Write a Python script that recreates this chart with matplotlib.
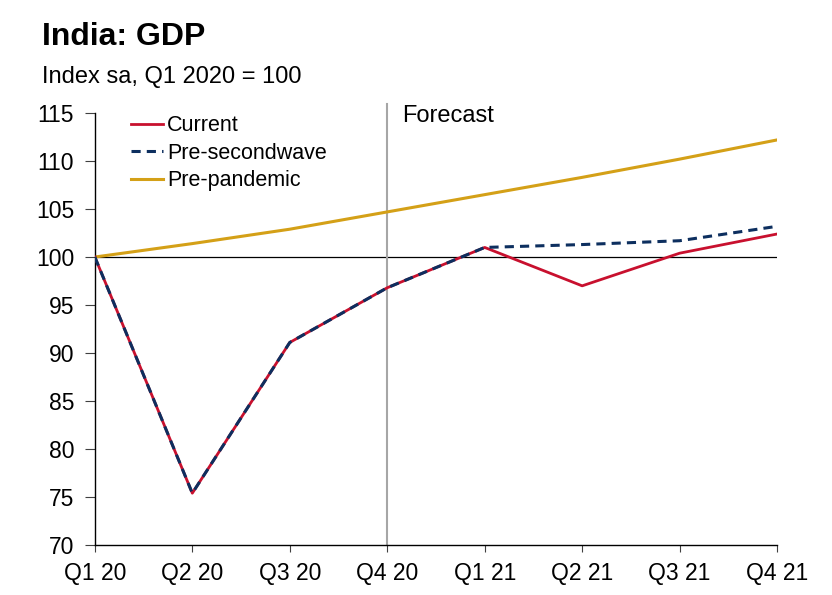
import matplotlib.pyplot as plt

plt.rcParams['font.family'] = ['Liberation Sans', 'DejaVu Sans']

quarters = ['Q1 20', 'Q2 20', 'Q3 20', 'Q4 20', 'Q1 21', 'Q2 21', 'Q3 21', 'Q4 21']
current = [100.0, 75.4, 91.1, 96.8, 101.0, 97.0, 100.4, 102.4]
pre_secondwave = [100.0, 75.4, 91.1, 96.8, 101.0, 101.3, 101.7, 103.2]
pre_pandemic = [100.0, 101.4, 102.9, 104.7, 106.5, 108.3, 110.2, 112.2]

x = list(range(len(quarters)))

fig = plt.figure(figsize=(8.32, 5.95), dpi=100)
ax = fig.add_axes([0.114, 0.084, 0.82, 0.726])

ax.axhline(100, color='black', lw=0.9, zorder=1)
ax.axvline(3, ymin=0, ymax=1.02, color='#a6a6a6', lw=1.5, clip_on=False, zorder=1)

ax.plot(x, current, color='#c8102e', lw=2, label='Current', zorder=3)
ax.plot(x, pre_secondwave, color='#0d2f5f', lw=2.2, ls=(0, (3, 2)), label='Pre-secondwave', zorder=4)
ax.plot(x, pre_pandemic, color='#d4a017', lw=2.2, label='Pre-pandemic', zorder=2)

ax.set_xlim(0, 7)
ax.set_ylim(70, 115)
ax.set_yticks(range(70, 116, 5))
ax.set_xticks(x)
ax.set_xticklabels(quarters)
ax.tick_params(axis='both', labelsize=16.5, direction='out', color='#404040')
ax.tick_params(axis='y', length=7, pad=8)
ax.tick_params(axis='x', length=5, pad=7)

for s in ['top', 'right']:
    ax.spines[s].set_visible(False)
for s in ['left', 'bottom']:
    ax.spines[s].set_linewidth(1)

ax.text(3.15, 114.05, 'Forecast', fontsize=17, va='baseline', ha='left')

ax.legend(loc='upper left', bbox_to_anchor=(0.04, 1.015), frameon=False, fontsize=15.5,
          handlelength=1.5, handletextpad=0.2, labelspacing=0.3, borderaxespad=0)

fig.text(0.05, 0.924, 'India: GDP', fontsize=23, fontweight='bold', ha='left', va='baseline')
fig.text(0.05, 0.860, 'Index sa, Q1 2020 = 100', fontsize=17, ha='left', va='baseline')

fig.savefig('out.png', dpi=100)
